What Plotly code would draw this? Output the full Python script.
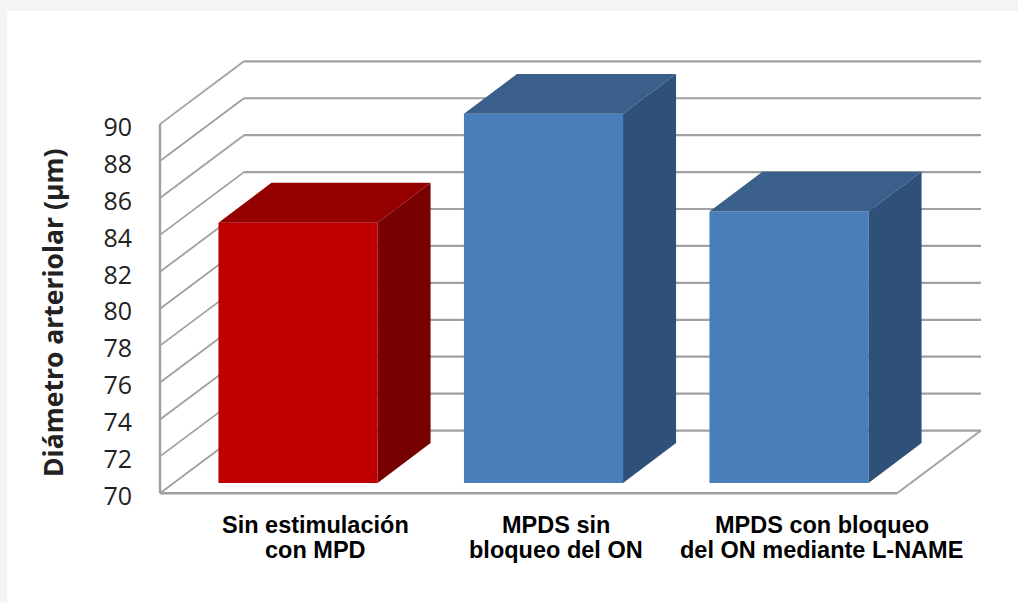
import plotly.graph_objects as go

# Chart content
line_one = ["Sin estimulación", "MPDS sin", "MPDS con bloqueo"]
line_two = ["con MPD", "bloqueo del ON", "del ON mediante L-NAME"]
diameters = [84.1, 90.0, 84.7]
positions = [0, 1, 2]
y_ticks = list(range(70, 92, 2))
y_title = "Diámetro arteriolar (µm)"

# Face colours of each column: front, top, side
front_colors = ["#c00000", "#4a7ebb", "#4a7ebb"]
top_colors = ["#940000", "#3a5f8b", "#3a5f8b"]
side_colors = ["#770000", "#2f5179", "#2f5179"]
grid_color = "#a0a0a0"

# Oblique projection, in axis units
BASE = 70
WALL_DX, WALL_DY = 0.342, 3.4     # full depth of the chart box
LAST_X = 2.782                    # right end of the back wall
FLOOR_END = LAST_X - WALL_DX      # right end of the front floor edge
LEFT = -0.5621                    # left wall
BAR_WIDTH = 0.648
BAR_LIFT = 0.56                   # columns stand slightly behind the front edge
BAR_DX, BAR_DY = 0.216, 2.16      # depth of a column

# Plot area placement in pixels and the axis scale it gives
PX_PER_X, PX_PER_Y = 245.5, 18.46
AREA_L, AREA_R, AREA_T, AREA_B = 157, 984, 57, 497
ZERO_X_PX, BASE_PX = 298, 493.3
x_range = [(AREA_L - ZERO_X_PX) / PX_PER_X, (AREA_R - ZERO_X_PX) / PX_PER_X]
y_range = [BASE - (AREA_B - BASE_PX) / PX_PER_Y, BASE + (BASE_PX - AREA_T) / PX_PER_Y]

# Captions sit a little to the right of their columns
label_shift = [0.073, 0.049, 0.134]
W, H = 1018, 603


def wall_line(x0, y0, x1, y1, width=2):
    return dict(type="line", xref="x", yref="y", x0=x0, y0=y0, x1=x1, y1=y1,
                layer="below", line=dict(color=grid_color, width=width))


# Grey page edge behind a white sheet, then the walls and floor of the chart box
area_w, area_h = AREA_R - AREA_L, AREA_B - AREA_T
shapes = [dict(type="rect", xref="paper", yref="paper", layer="below",
               x0=(7 - AREA_L) / area_w, x1=(W - AREA_L) / area_w,
               y0=(AREA_B - H) / area_h, y1=(AREA_B - 11) / area_h,
               fillcolor="white", line=dict(width=0))]
for tick in y_ticks:
    shapes.append(wall_line(LEFT, tick, LEFT + WALL_DX, tick + WALL_DY, 1.8))
    shapes.append(wall_line(LEFT + WALL_DX, tick + WALL_DY, LAST_X, tick + WALL_DY, 2.2))
shapes.append(wall_line(LEFT, BASE, LEFT, y_ticks[-1], 2.4))
shapes.append(wall_line(LEFT, BASE, FLOOR_END, BASE, 2.4))
shapes.append(wall_line(FLOOR_END, BASE, LAST_X, BASE + WALL_DY, 1.8))

fig = go.Figure()

# Front faces of the columns
fig.add_trace(go.Bar(
    x=positions,
    y=[v - BASE for v in diameters],
    base=[BASE + BAR_LIFT] * len(diameters),
    width=BAR_WIDTH,
    marker=dict(color=front_colors, line=dict(width=0)),
    showlegend=False,
))

# Top and side faces, projected back from each column's value
for pos, value, top_c, side_c in zip(positions, diameters, top_colors, side_colors):
    xl, xr = pos - BAR_WIDTH / 2, pos + BAR_WIDTH / 2
    y_low, y_high = BASE + BAR_LIFT, value + BAR_LIFT
    fig.add_trace(go.Scatter(
        x=[xl, xr, xr + BAR_DX, xl + BAR_DX, xl],
        y=[y_high, y_high, y_high + BAR_DY, y_high + BAR_DY, y_high],
        mode="lines", fill="toself", fillcolor=top_c,
        line=dict(width=0), showlegend=False,
    ))
    fig.add_trace(go.Scatter(
        x=[xr, xr + BAR_DX, xr + BAR_DX, xr, xr],
        y=[y_low, y_low + BAR_DY, y_high + BAR_DY, y_high, y_low],
        mode="lines", fill="toself", fillcolor=side_c,
        line=dict(width=0), showlegend=False,
    ))

# Two-line category captions with tight leading
annotations = []
for pos, shift, first, second in zip(positions, label_shift, line_one, line_two):
    for text, offset in ((first, 13), (second, 38)):
        annotations.append(dict(
            x=pos + shift, xref="x", y=0, yref="paper", text=f"<b>{text}</b>",
            showarrow=False, xanchor="center", yanchor="top", yshift=-offset,
            font=dict(family="Liberation Sans", size=23.5, color="#000000"),
        ))
annotations.append(dict(
    x=(53 - AREA_L) / area_w, xref="paper",
    y=(AREA_B - 313) / area_h, yref="paper",
    text=f"<b>{y_title}</b>", textangle=-90, showarrow=False,
    xanchor="center", yanchor="middle",
    font=dict(family="Open Sans", size=26.5, color="#222222"),
))

fig.update_layout(
    width=W, height=H,
    margin=dict(l=AREA_L, r=W - AREA_R, t=AREA_T, b=H - AREA_B, pad=0),
    paper_bgcolor="#f4f4f4",
    plot_bgcolor="rgba(0,0,0,0)",
    barmode="overlay",
    shapes=shapes,
    annotations=annotations,
    xaxis=dict(range=x_range, showgrid=False, zeroline=False, showline=False,
               showticklabels=False, ticks="", fixedrange=True),
    yaxis=dict(range=y_range, showgrid=False, zeroline=False, showline=False,
               tickmode="array", tickvals=y_ticks, ticks="",
               ticklabelstandoff=24, ticklabelshift=3, fixedrange=True,
               tickfont=dict(family="Open Sans", size=25, color="#222222")),
)

fig.write_html("out.html", config=dict(displayModeBar=False))
